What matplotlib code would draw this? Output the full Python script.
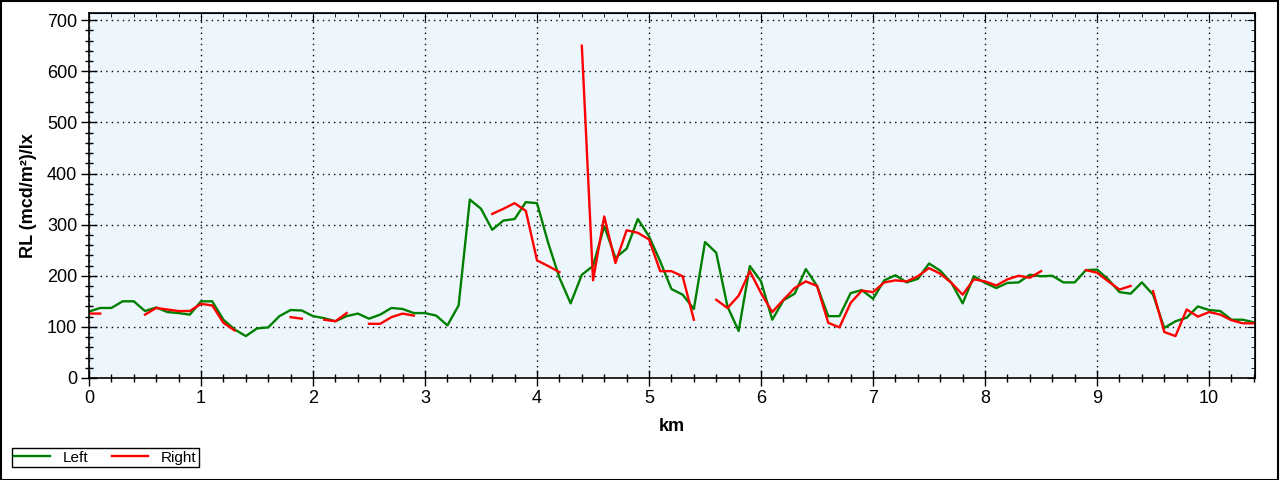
import numpy as np
import matplotlib.pyplot as plt
from matplotlib.ticker import MultipleLocator
from matplotlib.patches import Rectangle

plt.rcParams['font.family'] = ['Liberation Sans', 'DejaVu Sans']

nan = np.nan

# distance along the road, one reading every 100 m
km = np.round(np.arange(0, 10.41, 0.1), 1)

left_rl = [
    130, 137, 137, 150, 150, 131, 138, 129, 127, 124,
    150, 150, 114, 95, 82, 97, 99, 121, 133, 132,
    121, 117, 111, 121, 126, 116, 124, 137, 135, 127,
    127, 122, 103, 142, 349, 331, 290, 308, 311, 344,
    342, 264, 196, 146, 202, 219, 297, 235, 253, 311,
    277, 228, 174, 163, 135, 266, 245, 140, 92, 219,
    189, 114, 152, 165, 213, 180, 121, 121, 166, 172,
    155, 191, 201, 187, 194, 224, 210, 186, 146, 199,
    186, 176, 186, 187, 202, 199, 200, 187, 187, 211,
    212, 193, 168, 165, 187, 163, 98, 111, 118, 140,
    133, 131, 114, 114, 109,
]

right_rl = [
    126, 126, nan, nan, nan, 124, 137, 134, 131, 131,
    145, 142, 108, 93, nan, nan, nan, nan, 119, 116,
    nan, 114, 111, 127, nan, 106, 106, 119, 126, 122,
    nan, nan, nan, nan, nan, nan, 321, 331, 342, 327,
    230, 219, 207, nan, 650, 191, 316, 225, 289, 284,
    271, 209, 209, 199, 114, nan, 153, 137, 161, 209,
    166, 129, 153, 176, 189, 180, 108, 99, 147, 171,
    168, 187, 191, 189, 199, 215, 204, 186, 163, 193,
    189, 181, 193, 200, 196, 209, nan, nan, nan, 211,
    206, 189, 173, 180, nan, 170, 90, 82, 134, 120,
    129, 124, 113, 107, 107,
]

fig = plt.figure(figsize=(12.8, 4.8), dpi=100)
ax = fig.add_axes([89 / 1280, 102 / 480, (1255 - 89) / 1280, (378 - 13) / 480])
ax.set_facecolor('#eef6fd')

ax.plot(km, left_rl, color='#008000', lw=1.7, label='Left')
ax.plot(km, right_rl, color='#ff0000', lw=1.7, label='Right')

ax.set_xlim(0, 10.41)
ax.set_ylim(0, 714)
ax.xaxis.set_major_locator(MultipleLocator(1))
ax.xaxis.set_minor_locator(MultipleLocator(0.2))
ax.yaxis.set_major_locator(MultipleLocator(100))
ax.yaxis.set_minor_locator(MultipleLocator(20))
ax.tick_params(which='major', direction='inout', length=11, width=1, labelsize=13, pad=3)
ax.tick_params(which='minor', direction='inout', length=6, width=1)
ax.grid(True, which='major', color='black', linestyle=(0, (1, 3)), linewidth=1)
for s in ax.spines.values():
    s.set_linewidth(1.2)

# inward ticks on top and right
top = ax.secondary_xaxis('top')
top.xaxis.set_major_locator(MultipleLocator(1))
top.xaxis.set_minor_locator(MultipleLocator(0.2))
top.tick_params(which='major', direction='in', length=6, labeltop=False)
top.tick_params(which='minor', direction='in', length=3)
right = ax.secondary_yaxis('right')
right.yaxis.set_major_locator(MultipleLocator(100))
right.yaxis.set_minor_locator(MultipleLocator(20))
right.tick_params(which='major', direction='in', length=6, labelright=False)
right.tick_params(which='minor', direction='in', length=3)

ax.set_xlabel('km', fontsize=13, fontweight='bold', labelpad=8)
ax.set_ylabel('RL (mcd/m²)/lx', fontsize=13, fontweight='bold', labelpad=7)

fig.legend(loc='lower left', bbox_to_anchor=(12 / 1280, 13 / 480), ncol=2,
           fontsize=11, frameon=True, fancybox=False, edgecolor='black',
           framealpha=1, borderpad=0.15, handlelength=2.35, handletextpad=0.8,
           columnspacing=1.6, borderaxespad=0)

fig.patches.append(Rectangle((0.0005, 0.001), 0.998, 0.997, transform=fig.transFigure,
                             fill=False, edgecolor='black', linewidth=1.5))

fig.savefig('out.png', dpi=100)
